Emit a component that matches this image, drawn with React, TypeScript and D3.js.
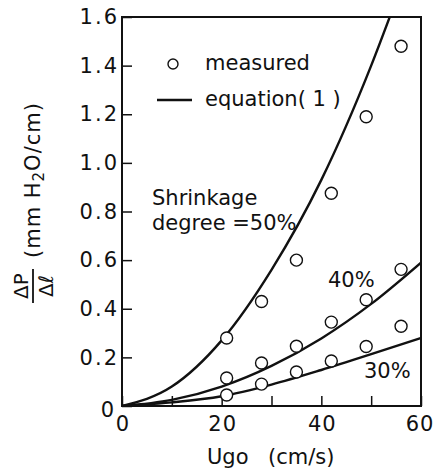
import React, { useEffect, useRef } from 'react';
import * as d3 from 'd3';

// measured points (superficial gas velocity, cm/s)
const speeds = [21, 28, 35, 42, 49, 56];
const measured50 = [0.28, 0.43, 0.6, 0.875, 1.19, 1.48];
const measured40 = [0.115, 0.177, 0.246, 0.345, 0.437, 0.562];
const measured30 = [0.045, 0.09, 0.14, 0.185, 0.245, 0.328];

// equation (1) curves
const curveSpeeds = [0, 10, 20, 30, 40, 50, 60];
const curveSpeeds50 = [0, 10, 20, 30, 40, 50, 55];
const equation50 = [0, 0.08, 0.27, 0.56, 0.93, 1.4, 1.67];
const equation40 = [0, 0.025, 0.08, 0.165, 0.278, 0.42, 0.59];
const equation30 = [0, 0.015, 0.04, 0.088, 0.148, 0.213, 0.28];

const xTicks = [0, 10, 20, 30, 40, 50, 60];
const xTickLabels = ['0', '', '20', '', '40', '', '60'];
const yTicks = [0, 0.2, 0.4, 0.6, 0.8, 1.0, 1.2, 1.4, 1.6];
const yTickLabels = ['0', '0.2', '0.4', '0.6', '0.8', '1.0', '1.2', '1.4', '1.6'];

const FONT = '"DejaVu Sans", sans-serif';

export default function App() {
  const svgRef = useRef<SVGSVGElement>(null);

  useEffect(() => {
    const width = 436;
    const height = 470;
    const svg = d3.select(svgRef.current)
      .attr('width', width)
      .attr('height', height)
      .style('background', '#fff');
    svg.selectAll('*').remove();

    // scales
    const x = d3.scaleLinear().domain([0, 60]).range([122, 421]);
    const y = d3.scaleLinear().domain([0, 1.6]).range([406, 17]);

    svg.append('clipPath').attr('id', 'plot-clip')
      .append('rect')
      .attr('x', x(0)).attr('y', y(1.6))
      .attr('width', x(60) - x(0)).attr('height', y(0) - y(1.6));

    // axes, ticks pointing inward
    const xAxis = d3.axisBottom(x)
      .tickValues(xTicks)
      .tickSize(-10)
      .tickPadding(10)
      .tickFormat((d, i) => xTickLabels[i]);
    const yAxis = d3.axisLeft(y)
      .tickValues(yTicks)
      .tickSize(-10)
      .tickPadding(3)
      .tickFormat((d, i) => yTickLabels[i]);

    const gx = svg.append('g')
      .attr('transform', `translate(0, ${y(0)})`)
      .call(xAxis);
    const gy = svg.append('g')
      .attr('transform', `translate(${x(0)}, 0)`)
      .call(yAxis);

    [gx, gy].forEach(g => {
      g.select('.domain').remove();
      g.selectAll('.tick line').attr('stroke', '#111').attr('stroke-width', 1.5);
      g.selectAll('.tick text')
        .attr('fill', '#111')
        .style('font-family', FONT)
        .style('font-size', '21px')
        .style('letter-spacing', '2px');
    });
    gx.selectAll('.tick text').style('letter-spacing', '1px').attr('dx', '0.5');
    gx.selectAll('.tick text').filter((d: any) => d === 60).attr('dx', '-1.5');
    gy.selectAll('.tick text').filter((d: any) => d === 0)
      .attr('dy', '0.5em').attr('dx', '-3');

    // frame
    svg.append('rect')
      .attr('x', x(0)).attr('y', y(1.6))
      .attr('width', x(60) - x(0)).attr('height', y(0) - y(1.6))
      .attr('fill', 'none')
      .attr('stroke', '#111')
      .attr('stroke-width', 2);

    // equation curves
    const line = d3.line<[number, number]>()
      .x(d => x(d[0]))
      .y(d => y(d[1]))
      .curve(d3.curveMonotoneX);
    const curves: [number, number][][] = [
      curveSpeeds50.map((u, i) => [u, equation50[i]]),
      curveSpeeds.map((u, i) => [u, equation40[i]]),
      curveSpeeds.map((u, i) => [u, equation30[i]]),
    ];
    svg.append('g')
      .attr('clip-path', 'url(#plot-clip)')
      .selectAll('path')
      .data(curves)
      .join('path')
        .attr('d', d => line(d))
        .attr('fill', 'none')
        .attr('stroke', '#111')
        .attr('stroke-width', 2.4);

    // measured points
    const points = [measured50, measured40, measured30].flatMap(series =>
      series.map((v, i) => [speeds[i], v] as [number, number]));
    svg.append('g')
      .selectAll('circle')
      .data(points)
      .join('circle')
        .attr('cx', d => x(d[0]))
        .attr('cy', d => y(d[1]))
        .attr('r', 6)
        .attr('fill', '#fff')
        .attr('stroke', '#111')
        .attr('stroke-width', 1.4);

    const text = (tx: number, ty: number, s: string, size = 21) =>
      svg.append('text')
        .attr('x', tx).attr('y', ty)
        .attr('fill', '#111')
        .style('font-family', FONT)
        .style('font-size', `${size}px`)
        .text(s);

    // legend
    svg.append('circle')
      .attr('cx', 173).attr('cy', 64).attr('r', 5)
      .attr('fill', '#fff').attr('stroke', '#111').attr('stroke-width', 1.4);
    text(205, 70, 'measured');
    svg.append('line')
      .attr('x1', 157).attr('x2', 192).attr('y1', 100).attr('y2', 100)
      .attr('stroke', '#111').attr('stroke-width', 2.4);
    text(205, 106, 'equation( 1 )');

    // curve labels
    text(152, 205, 'Shrinkage');
    text(152, 230, 'degree =50%');
    text(328, 287, '40%');
    text(364, 378, '30%');

    // x axis title
    text(207, 464, 'Ugo');
    text(268, 464, '(cm/s)');

    // y axis title: fraction plus units, rotated
    const yl = svg.append('g')
      .attr('transform', 'translate(33, 286) rotate(-90)')
      .attr('fill', '#111')
      .style('font-family', FONT);
    yl.append('text').attr('x', 0).attr('y', -5)
      .attr('text-anchor', 'middle').style('font-size', '20px').text('ΔP');
    yl.append('line')
      .attr('x1', -17).attr('x2', 17).attr('y1', 0).attr('y2', 0)
      .attr('stroke', '#111').attr('stroke-width', 1.8);
    yl.append('text').attr('x', 0).attr('y', 20)
      .attr('text-anchor', 'middle').style('font-size', '20px').text('Δℓ');
    const units = yl.append('text')
      .attr('x', 28).attr('y', 7)
      .style('font-size', '21px')
      .style('letter-spacing', '1px');
    units.append('tspan').text('(mm H');
    units.append('tspan').attr('dy', 4).style('font-size', '15px').text('2');
    units.append('tspan').attr('dy', -4).text('O/cm)');
  }, []);

  return (
    <svg ref={svgRef} style={{ position: 'absolute', left: 0, top: 0 }}></svg>
  );
}
